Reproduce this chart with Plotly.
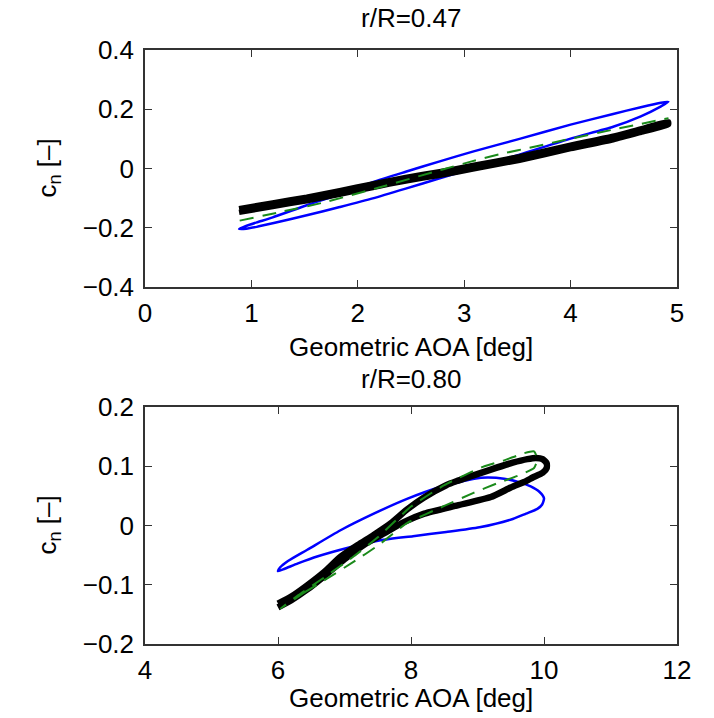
import plotly.graph_objects as go

# ---------------- data: r/R = 0.47 ----------------
top_blue_aoa = [0.884, 0.95, 1.05, 1.2, 1.52, 1.83, 2.14, 2.45, 2.77, 3.08, 3.52, 4.0, 4.4, 4.66, 4.85, 4.92,
                4.85, 4.66, 4.4, 4.0, 3.52, 3.08, 2.77, 2.45, 2.14, 1.83, 1.52, 1.2, 1.05, 0.95, 0.884]
top_blue_cn = [-0.204, -0.194, -0.182, -0.165, -0.124, -0.087, -0.046, -0.011, 0.024, 0.057, 0.100, 0.148, 0.184, 0.207, 0.222, 0.225,
               0.210, 0.176, 0.141, 0.101, 0.047, 0.000, -0.033, -0.068, -0.101, -0.130, -0.158, -0.185, -0.197, -0.203, -0.204]

top_black_aoa = [0.884, 1.2, 1.52, 1.83, 2.14, 2.45, 2.77, 3.08, 3.52, 4.0, 4.4, 4.66, 4.92,
                 4.92, 4.66, 4.4, 4.0, 3.52, 3.08, 2.77, 2.45, 2.14, 1.83, 1.52, 1.2, 0.884]
top_black_cn = [-0.136, -0.116, -0.097, -0.075, -0.052, -0.030, -0.011, 0.010, 0.040, 0.079, 0.109, 0.134, 0.158,
                0.148, 0.122, 0.097, 0.067, 0.028, -0.002, -0.023, -0.042, -0.064, -0.087, -0.109, -0.128, -0.148]

top_green_aoa = [0.89, 1.27, 1.70, 2.2, 2.79, 3.07, 3.33, 3.68, 3.98, 4.41, 4.92]
top_green_cn = [-0.176, -0.147, -0.113, -0.064, -0.004, 0.024, 0.048, 0.075, 0.099, 0.132, 0.170]

# ---------------- data: r/R = 0.80 ----------------
bot_blue_aoa = [6.0, 6.03, 6.15, 6.44, 6.94, 7.44, 7.94, 8.44, 8.95, 9.15, 9.4, 9.6, 9.8, 9.93, 10.0,
                9.97, 9.9, 9.73, 9.53, 9.03, 8.53, 8.03, 7.54, 7.04, 6.6, 6.3, 6.1, 6.0]
bot_blue_cn = [-0.077, -0.071, -0.060, -0.041, -0.008, 0.020, 0.045, 0.065, 0.079, 0.081, 0.079, 0.074, 0.066, 0.057, 0.046,
               0.035, 0.028, 0.020, 0.011, -0.003, -0.011, -0.018, -0.025, -0.038, -0.052, -0.064, -0.073, -0.077]

bot_black_aoa = [6.0, 6.2, 6.44, 6.7, 6.94, 7.2, 7.44, 7.7, 7.94, 8.19, 8.53, 8.69, 9.03, 9.19, 9.53, 9.75, 9.88, 9.98, 10.04,
                 10.04, 9.98, 9.83, 9.73, 9.5, 9.2, 8.7, 8.2, 7.9, 7.6, 7.3, 7.0, 6.7, 6.44, 6.2, 6.0]
bot_black_cn = [-0.132, -0.120, -0.101, -0.078, -0.053, -0.033, -0.016, 0.004, 0.027, 0.047, 0.068, 0.075, 0.088, 0.094, 0.106, 0.112, 0.114, 0.112, 0.105,
                0.097, 0.089, 0.081, 0.075, 0.064, 0.048, 0.034, 0.020, 0.006, -0.013, -0.032, -0.057, -0.085, -0.108, -0.126, -0.138]

bot_green_aoa = [6.04, 6.4, 6.69, 7.14, 7.5, 7.94, 8.5, 8.94, 9.29, 9.63, 9.85, 9.9,
                 9.85, 9.7, 9.4, 9.08, 8.5, 8.0, 7.5, 7.14, 6.69, 6.3, 6.04]
bot_green_cn = [-0.140, -0.113, -0.093, -0.061, -0.034, 0.004, 0.033, 0.055, 0.071, 0.085, 0.097, 0.112,
                0.125, 0.122, 0.110, 0.099, 0.068, 0.032, -0.020, -0.052, -0.088, -0.118, -0.140]

top_xticks = [0, 1, 2, 3, 4, 5]
top_yticks = [-0.4, -0.2, 0, 0.2, 0.4]
bot_xticks = [4, 6, 8, 10, 12]
bot_yticks = [-0.2, -0.1, 0, 0.1, 0.2]

title_top = "r/R=0.47"
title_bot = "r/R=0.80"
xlabel = "Geometric AOA [deg]"
ylabel = "c<sub>n</sub> [\u2013]"

FONT = "Liberation Sans, Arial, sans-serif"
BLUE = "#0000ff"
GREEN = "#1a8a1a"
BLACK = "#000000"
AX = "#333333"

fig = go.Figure()

def add_set(bx, by, kx, ky, gx, gy, xa, ya, kw):
    fig.add_trace(go.Scatter(x=bx, y=by, mode="lines",
                             line=dict(color=BLUE, width=2.5, shape="spline", smoothing=0.6),
                             xaxis=xa, yaxis=ya, showlegend=False, hoverinfo="skip"))
    fig.add_trace(go.Scatter(x=kx, y=ky, mode="lines",
                             line=dict(color=BLACK, width=kw, shape="spline", smoothing=0.5),
                             xaxis=xa, yaxis=ya, showlegend=False, hoverinfo="skip"))
    fig.add_trace(go.Scatter(x=gx, y=gy, mode="lines",
                             line=dict(color=GREEN, width=2, dash="14px,9px", shape="spline", smoothing=0.5),
                             xaxis=xa, yaxis=ya, showlegend=False, hoverinfo="skip"))

add_set(top_blue_aoa, top_blue_cn, top_black_aoa, top_black_cn, top_green_aoa, top_green_cn, "x", "y", 5.5)
add_set(bot_blue_aoa, bot_blue_cn, bot_black_aoa, bot_black_cn, bot_green_aoa, bot_green_cn, "x2", "y2", 6.5)

axis_common = dict(showline=True, linecolor=AX, linewidth=1.5, mirror="ticks", ticks="inside",
                   ticklen=7, tickwidth=1.3, tickcolor=AX, showgrid=False, zeroline=False,
                   tickfont=dict(family=FONT, size=26, color="#000000"))

L, R, T, B = 145, 37, 50, 74
W, H = 714, 718
ph = H - T - B

def py(p):
    return (H - B - p) / ph

def px(p):
    return (p - L) / (W - L - R)

fig.update_layout(
    width=W, height=H,
    margin=dict(l=L, r=R, t=T, b=B),
    paper_bgcolor="white", plot_bgcolor="white",
    xaxis=dict(domain=[0, 1], anchor="y", range=[0, 5], tickvals=top_xticks, ticklabelstandoff=2, **axis_common),
    yaxis=dict(domain=[py(287), 1], anchor="x", range=[-0.4, 0.4], tickvals=top_yticks, ticklabelstandoff=4, **axis_common),
    xaxis2=dict(domain=[0, 1], anchor="y2", range=[4, 12], tickvals=bot_xticks, ticklabelstandoff=2, **axis_common),
    yaxis2=dict(domain=[0, py(407)], anchor="x2", range=[-0.2, 0.2], tickvals=bot_yticks, ticklabelstandoff=4, **axis_common),
)

ann_font = dict(family=FONT, size=26, color="#000000")
anns = [
    dict(text=title_top, x=0.5, y=py(18), xref="paper", yref="paper", showarrow=False, font=ann_font, xanchor="center", yanchor="middle"),
    dict(text=title_bot, x=0.5, y=py(379), xref="paper", yref="paper", showarrow=False, font=ann_font, xanchor="center", yanchor="middle"),
    dict(text=xlabel, x=0.5, y=py(347), xref="paper", yref="paper", showarrow=False, font=ann_font, xanchor="center", yanchor="middle"),
    dict(text=xlabel, x=0.5, y=py(698), xref="paper", yref="paper", showarrow=False, font=ann_font, xanchor="center", yanchor="middle"),
    dict(text=ylabel, x=px(48), y=py(168.5), xref="paper", yref="paper", showarrow=False, font=ann_font, textangle=-90, xanchor="center", yanchor="middle"),
    dict(text=ylabel, x=px(48), y=py(525.5), xref="paper", yref="paper", showarrow=False, font=ann_font, textangle=-90, xanchor="center", yanchor="middle"),
]
fig.update_layout(annotations=anns)

fig.write_html("out.html")
